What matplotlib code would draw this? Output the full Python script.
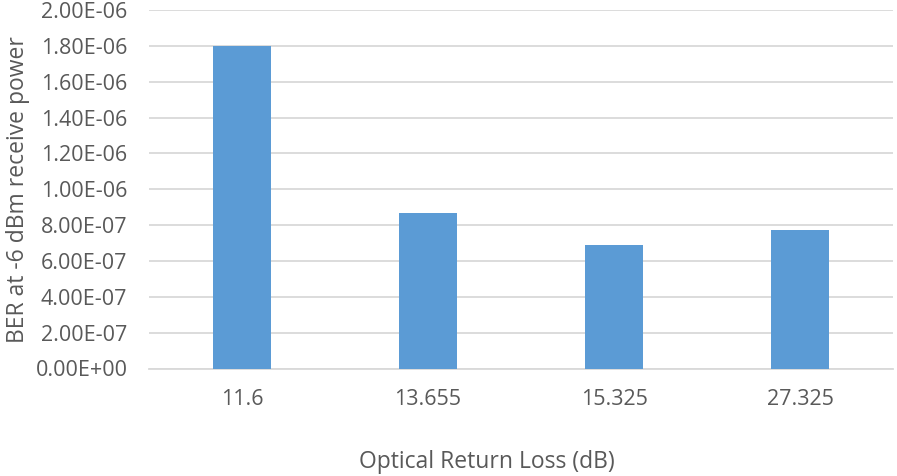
import numpy as np
import matplotlib.pyplot as plt
from matplotlib.ticker import FuncFormatter

# Optical return loss (dB) vs. bit error rate
return_loss = ["11.6", "13.655", "15.325", "27.325"]
ber = [1.80e-6, 8.7e-7, 6.88e-7, 7.7e-7]
y_ticks = np.arange(0, 2.01e-6, 2e-7)

bar_color = "#5B9BD5"
grid_color = "#D9D9D9"
text_color = "#595959"

plt.rcParams["font.family"] = ["Open Sans", "DejaVu Sans"]

fig = plt.figure(figsize=(8.97, 4.76), dpi=100)
ax = fig.add_axes([149 / 897, 1 - 368.5 / 476, 744 / 897, 358.5 / 476])

x = np.arange(len(return_loss))
ax.bar(x, ber, width=0.31, color=bar_color, zorder=3)

ax.set_xlim(-0.5, len(return_loss) - 0.5)
ax.set_ylim(0, 2e-6)
ax.set_yticks(y_ticks)
ax.yaxis.set_major_formatter(FuncFormatter(lambda v, _: f"{v:.2E}"))
ax.set_xticks(x)
ax.set_xticklabels(return_loss)

ax.grid(axis="y", color=grid_color, linewidth=1.3, zorder=0)
for side in ["top", "right", "left"]:
    ax.spines[side].set_visible(False)
ax.spines["bottom"].set_color(grid_color)
ax.spines["bottom"].set_linewidth(1.3)
ax.tick_params(axis="both", length=0, labelsize=15.5, colors=text_color)
ax.tick_params(axis="x", pad=15)
ax.tick_params(axis="y", pad=15.5)

ax.set_ylabel("BER at -6 dBm receive power", fontsize=16.5, color=text_color, labelpad=4)
ax.set_xlabel("Optical Return Loss (dB)", fontsize=16.5, color=text_color)
# the axis title sits a little left of the plot centre
ax.xaxis.set_label_coords(0.454, -0.228)

fig.savefig("out.png", dpi=100)
